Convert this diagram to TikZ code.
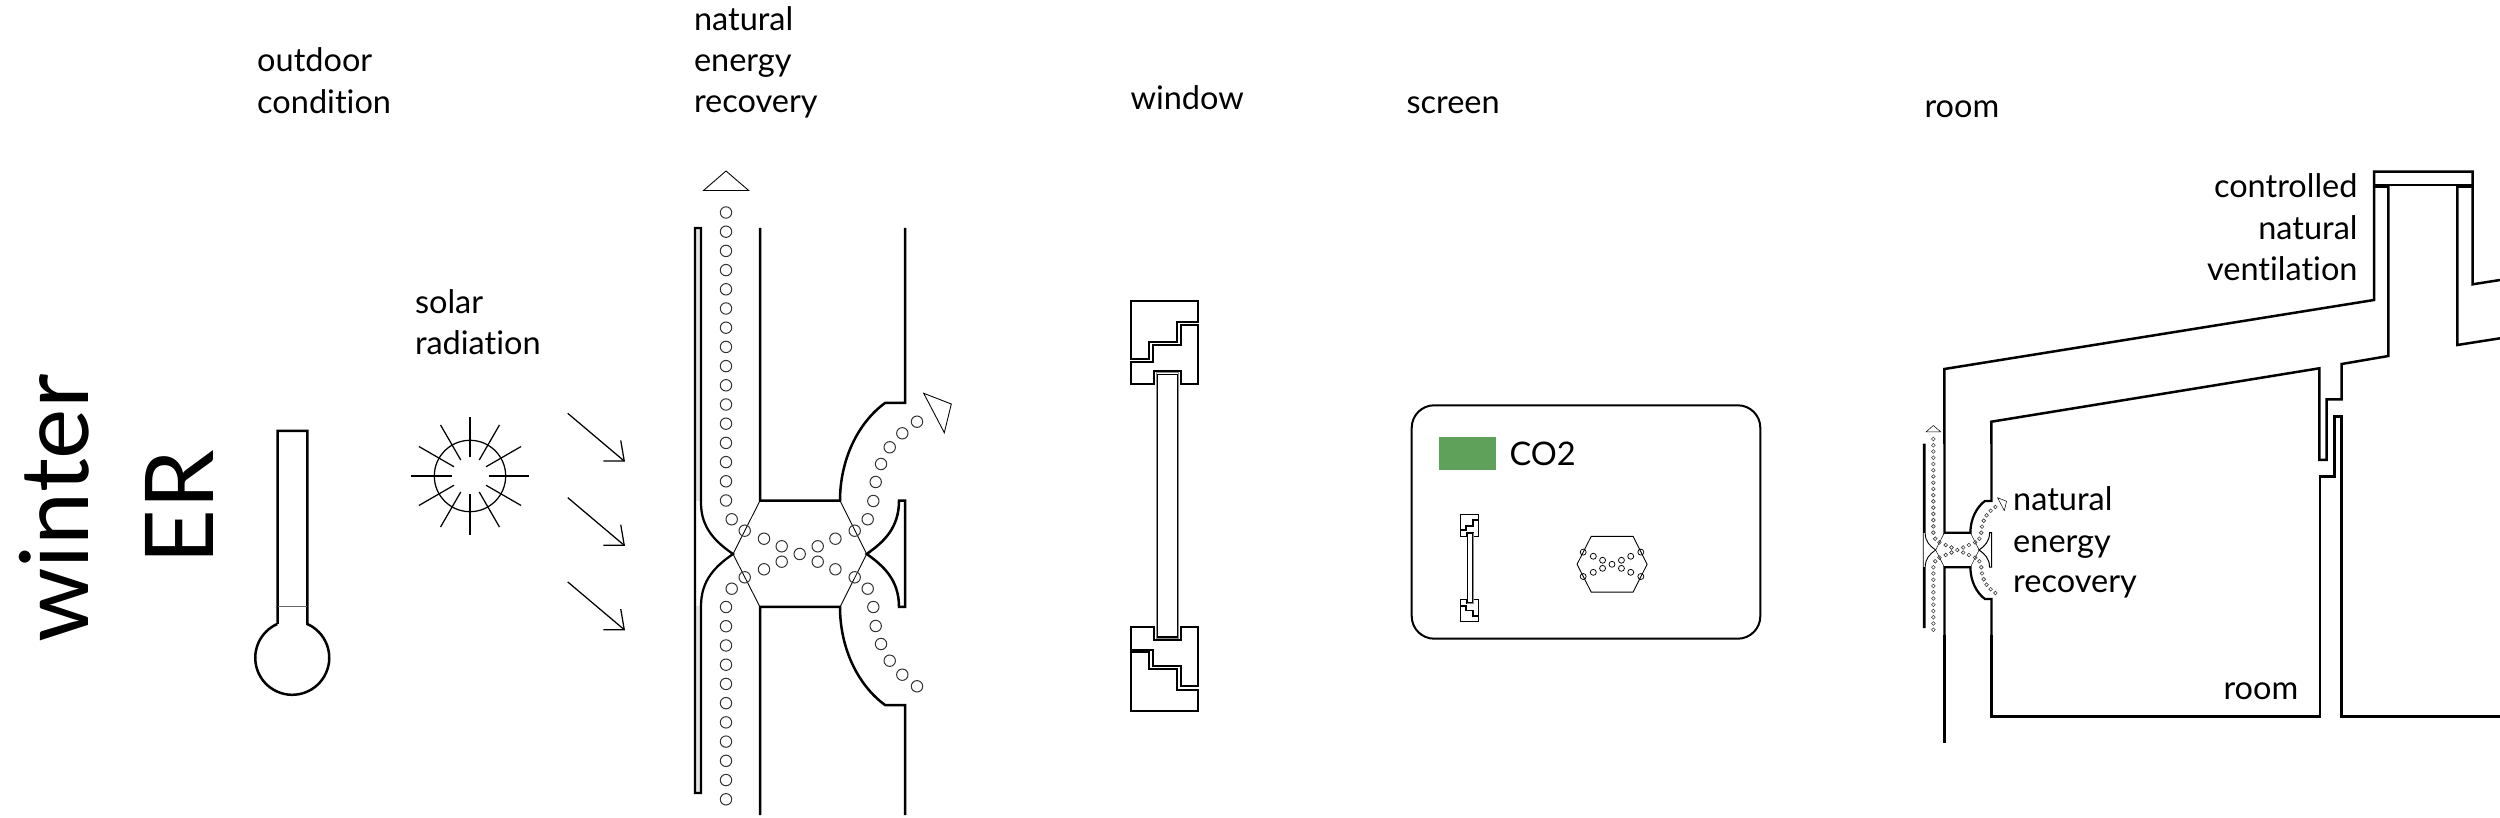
\documentclass[tikz,border=0pt]{standalone}
\usepackage{fontspec}
\setmainfont{Lato}[Ligatures=CommonOff]
\usepackage{xcolor}
\usetikzlibrary{arrows.meta,positioning,calc}
\definecolor{cogreen}{RGB}{95,160,90}

% hexagon dots, local coordinates round the middle of the unit
\newcommand{\hexdots}{
  \draw[dot] (0,0) circle (5.7);
  \foreach \px/\py in {55/23.3,35.7/15.3,18/7.7} {
    \foreach \sx in {1,-1} {\foreach \sy in {1,-1} {
      \draw[dot] (\sx*\px,\sy*\py) circle (5.7);
    }}
  }
}
% ventilation unit with both walls
\newcommand{\erunit}{
  \draw[wall] (-39.7,-326) -- (-39.7,-53.3) -- (40.3,-53.3) .. controls (40.3,-94) and (58,-131) .. (85.3,-151) -- (105.3,-151) -- (105.3,-326);
  \draw[wall] (-39.7,261) -- (-39.7,53) -- (40.3,53) .. controls (40.3,94) and (58,131) .. (85.3,151) -- (105.3,151) -- (105.3,261);
  \fill[strip] (-104.7,-326) rectangle (-98.7,-53);
  \fill[strip] (-104.7,52) rectangle (-98.7,239);
  \draw[pane] (-104.7,-326) -- (-98.7,-326) -- (-98.7,-51) .. controls (-98.7,-26) and (-84,-12) .. (-66.7,0) .. controls (-84,12) and (-98.7,26) .. (-98.7,52) -- (-98.7,239) -- (-104.7,239) -- cycle;
  \draw[cup] (105.3,-53.3) -- (99.3,-53.3) .. controls (99.3,-26) and (84,-12) .. (67,0) .. controls (84,12) and (99.3,26) .. (99.3,53) -- (105.3,53) -- cycle;
  \draw[fine] (-39.7,-53.3) -- (-66.7,0) -- (-39.7,53);
  \draw[fine] (40.3,-53.3) -- (67,0) -- (40.3,53);
  \hexdots
  \foreach \i in {0,...,15} {\draw[dot] (-73.7,-341.5+\i*19.2) circle (5.7);}
  \foreach \i in {0,...,10} {\draw[dot] (-73.7,53+\i*19.23) circle (5.7);}
  \foreach \sy in {1,-1} {
    \draw[dot] (-68,\sy*34.7) circle (5.7);
    \foreach \px/\py in {68/34.7,73.6/53,76/72,81.3/90,90/106.7,102.6/120.7,117.3/132.3} {
      \draw[dot] (\px,\sy*\py) circle (5.7);
    }
  }
  \draw[fine] (-96.2,-363.5) -- (-73.7,-383) -- (-51,-363.5) -- cycle;
  \draw[fine] (124,-160.7) -- (151.6,-150) -- (144.6,-121.3) -- cycle;
}
% window section
\newcommand{\sashwindow}{
  \foreach \s in {1,-1} {
    \begin{scope}[yscale=\s]
      \draw[frame] (-33.7,-205) -- (34,-205) -- (34,-184) -- (13,-184) -- (13,-163.3) -- (-15,-163.3) -- (-15,-146.7) -- (-33.7,-146.7) -- cycle;
      \draw[frame] (34,-180.7) -- (16.3,-180.7) -- (16.3,-160.7) -- (-11.7,-160.7) -- (-11.7,-144) -- (-33.7,-144) -- (-33.7,-121.3) -- (-10.3,-121.3) -- (-10.3,-134.7) -- (16.3,-134.7) -- (16.3,-121.3) -- (34,-121.3) -- cycle;
    \end{scope}
  }
  \draw[glasshalo] (-8.3,-133) rectangle (14.3,133);
  \draw[glassline] (-7,-131.3) rectangle (13,131.3);
}

\begin{document}
\begin{tikzpicture}[
  x=0.4pt, y=-0.4pt,
  wall/.style={line width=1pt},
  pane/.style={line width=0.9pt},
  strip/.style={black!10},
  cup/.style={line width=1pt},
  frame/.style={line width=0.8pt},
  glassline/.style={line width=0.5pt},
  glasshalo/.style={line width=0.4pt, draw=black!45},
  fine/.style={line width=0.35pt},
  dot/.style={line width=0.4pt, draw=black!80},
  ray/.style={line width=0.5pt},
  sunarrow/.style={line width=0.5pt, -{Straight Barb[length=6.4pt,width=10.8pt]}},
  note/.style={font=\fontsize{13}{16.6}\selectfont, inner sep=0pt, anchor=base west, align=left},
  bignote/.style={font=\fontsize{38}{38}\selectfont, inner sep=0pt, anchor=base, rotate=90}
]
\useasboundingbox (0,0) rectangle (2500,818);

\node[bignote] (season) at (88,508.7) {winter};
\node[bignote] (mode) at (213.6,507.7) {ER};

\node[note] (outdoor) at (256.7,72) {outdoor};
\node[note] (condition) at (256.7,113.5) {condition};
\node[note] (solar) at (414.5,313.5) {solar};
\node[note] (radiation) at (414.5,355) {radiation};
\node[note] (er1) at (693.5,30.5) {natural};
\node[note] (er2) at (693.5,71.5) {energy};
\node[note] (er3) at (693.5,113) {recovery};
\node[note] (window) at (1130,109.5) {window};
\node[note] (screen) at (1406,114) {screen};
\node[note] (roomhead) at (1924,118) {room};

% thermometer
\draw[wall] (277.7,624) -- (277.7,431) -- (307.3,431) -- (307.3,624) arc[start angle=-66, end angle=246, radius=37];
\draw[line width=0.3pt, draw=black!60] (277.7,606) -- (307.3,606);

% sun
\draw[ray] (470,476) circle (35.7);
\foreach \a in {0,30,...,330} {
  \draw[ray] ($(470,476)+(\a:18.5)$) -- ($(470,476)+(\a:59)$);
}
\foreach \i in {0,1,2} {
  \draw[sunarrow] (567.7,413.3+\i*84.3) -- (625,461.7+\i*84.3);
}

% large unit
\begin{scope}[shift={(799.7,554)}]
  \erunit
\end{scope}

% window
\begin{scope}[shift={(1164.3,505.7)}]
  \sashwindow
\end{scope}

% screen
\draw[line width=0.8pt, rounded corners=9pt] (1411.7,405.3) rectangle (1760.3,638.7);
\fill[cogreen] (1439,437) rectangle (1495.7,470);
\node[note] (co2) at (1509,465.7) {CO2};
\begin{scope}[shift={(1469.3,568)}, scale=.262, frame/.style={line width=0.25pt}, glassline/.style={line width=0.25pt}, glasshalo/.style={line width=0.15pt, draw=black!45}]
  \sashwindow
\end{scope}
\begin{scope}[shift={(1612,564.3)}, scale=.524, dot/.style={line width=0.3pt}]
  \draw[fine] (-66.7,0) -- (-39.7,-53.3) -- (40.3,-53.3) -- (67,0) -- (40.3,53) -- (-39.7,53) -- cycle;
  \hexdots
\end{scope}

% room
\begin{scope}[shift={(1957.3,550)}, scale=.325, pane/.style={line width=0.35pt}, strip/.style={black}, cup/.style={line width=0.4pt}, dot/.style={line width=0.25pt, draw=black!75}, fine/.style={line width=0.2pt}, wall/.style={line width=0.9pt}]
  \erunit
\end{scope}
\draw[wall] (1944.4,444) -- (1944.4,369) -- (2374,300) -- (2374,171.7) -- (2472.7,171.7) -- (2472.7,284.3) -- (2500,280);
\draw[wall] (1944.4,635) -- (1944.4,743);
\draw[wall] (2374,185) -- (2472.7,185);
\fill (2374,185) rectangle (2388.3,188.5);
\fill (2457.3,185) rectangle (2472.7,188.5);
\draw[wall] (1991.4,635) -- (1991.4,716.7) -- (2320,716.7) -- (2320,476.7) -- (2334.3,476.7) -- (2334.3,416.7) -- (2341.7,416.7) -- (2341.7,716.7) -- (2500,716.7);
\draw[wall] (1991.4,444) -- (1991.4,421.7) -- (2319.3,368.3) -- (2319.3,460) -- (2326.7,460) -- (2326.7,399.3) -- (2341.7,399.3) -- (2341.7,364) -- (2388.3,356) -- (2388.3,185);
\draw[wall] (2457.3,185) -- (2457.3,345) -- (2500,338.3);

\node[note, anchor=base east] (ctrl1) at (2358,198) {controlled};
\node[note, anchor=base east] (ctrl2) at (2358,239.5) {natural};
\node[note, anchor=base east] (ctrl3) at (2358,280.5) {ventilation};
\node[note] (er4) at (2012.7,511) {natural};
\node[note] (er5) at (2012.7,552.5) {energy};
\node[note] (er6) at (2012.7,593) {recovery};
\node[note] (roominner) at (2223,699.5) {room};
\end{tikzpicture}
\end{document}
